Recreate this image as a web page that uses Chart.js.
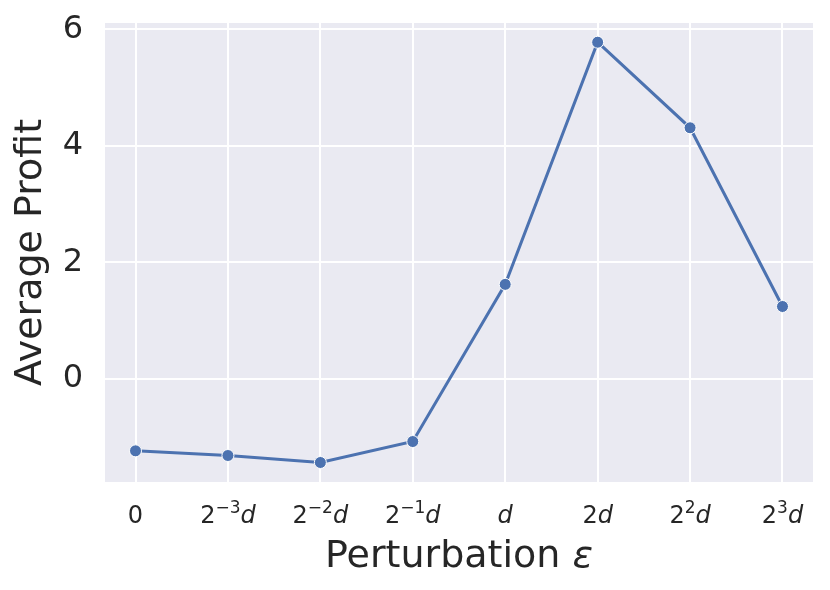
<!DOCTYPE html>
<html>
<head>
<meta charset="utf-8">
<script src="https://cdn.jsdelivr.net/npm/chart.js@4/dist/chart.umd.min.js"></script>
<style>
  html, body { margin: 0; padding: 0; background: #fff; }
  #wrap { width: 830px; height: 590px; }
</style>
</head>
<body>
<div id="wrap"><canvas id="profitChart" width="830" height="590"></canvas></div>
<script>
// perturbation levels (x categories) and average profit values
const xLabels = ['0', '2^−3d', '2^−2d', '2^−1d', 'd', '2d', '2^2d', '2^3d'];
const profit = [-1.24, -1.32, -1.44, -1.08, 1.62, 5.78, 4.31, 1.24];
const yTicks = [0, 2, 4, 6];

const textColor = '#262626';
const lineColor = '#4c72b0';

// draws x tick labels with superscript exponent and italic d, plus the x title
const mathTicks = {
  id: 'mathTicks',
  afterDraw(chart) {
    const ctx = chart.ctx;
    const xs = chart.scales.x;
    const baseY = chart.chartArea.bottom + 41;
    const big = '24px "DejaVu Sans"';
    const bigIt = 'italic 24px "DejaVu Sans"';
    const small = '17px "DejaVu Sans"';
    ctx.save();
    ctx.fillStyle = textColor;
    ctx.textBaseline = 'alphabetic';
    ctx.textAlign = 'left';
    const drawParts = (parts, cx, y) => {
      let total = 0;
      parts.forEach(p => { ctx.font = p[1]; total += ctx.measureText(p[0]).width; });
      let x = cx - total / 2;
      parts.forEach(p => {
        ctx.font = p[1];
        ctx.fillText(p[0], x, y + p[2]);
        x += ctx.measureText(p[0]).width;
      });
    };
    xLabels.forEach((lab, i) => {
      const parts = [];
      let rest = lab;
      if (rest.includes('^')) {
        const [base, tail] = rest.split('^');
        parts.push([base, big, 0]);
        parts.push([tail.replace('d', ''), small, -10]);
        rest = 'd';
      } else if (rest.endsWith('d') && rest.length > 1) {
        parts.push([rest.slice(0, -1), big, 0]);
        rest = 'd';
      }
      if (rest === 'd') parts.push(['d', bigIt, 0]);
      else if (parts.length === 0) parts.push([rest, big, 0]);
      drawParts(parts, xs.getPixelForValue(i), baseY);
    });
    // x axis title
    const a = chart.chartArea;
    drawParts([
      ['Perturbation ', '38px "DejaVu Sans"', 0],
      ['ε', 'italic 38px "DejaVu Sans"', 0]
    ], (a.left + a.right) / 2, a.bottom + 85);
    ctx.restore();
  }
};

const chartAreaBg = {
  id: 'chartAreaBg',
  beforeDraw(chart) {
    const { ctx, chartArea: a } = chart;
    ctx.save();
    ctx.fillStyle = '#eaeaf2';
    ctx.fillRect(a.left, a.top, a.right - a.left, a.bottom - a.top);
    ctx.restore();
  }
};

new Chart(document.getElementById('profitChart'), {
  type: 'line',
  data: {
    datasets: [{
      data: profit.map((v, i) => ({ x: i, y: v })),
      borderColor: lineColor,
      backgroundColor: lineColor,
      borderWidth: 3,
      pointRadius: 6,
      pointBorderColor: '#ffffff',
      pointBorderWidth: 1,
      tension: 0
    }]
  },
  options: {
    responsive: false,
    animation: false,
    layout: { padding: { left: 0, right: 17, top: 23, bottom: 0 } },
    plugins: { legend: { display: false }, tooltip: { enabled: false } },
    scales: {
      x: {
        type: 'linear',
        min: -0.33,
        max: 7.33,
        afterBuildTicks: s => { s.ticks = xLabels.map((_, i) => ({ value: i })); },
        afterFit: s => { s.height = 108; s.paddingLeft = 0; s.paddingRight = 0; },
        border: { display: false },
        grid: { color: '#ffffff', lineWidth: 2, drawTicks: false },
        ticks: { display: false },
        title: { display: false }
      },
      y: {
        min: -1.775,
        max: 6.11,
        afterBuildTicks: s => { s.ticks = yTicks.map(v => ({ value: v })); },
        afterFit: s => { s.width = 105; s.paddingTop = 0; s.paddingBottom = 0; },
        border: { display: false },
        grid: { color: '#ffffff', lineWidth: 2, drawTicks: false },
        ticks: {
          color: textColor,
          padding: 22,
          font: { family: 'DejaVu Sans', size: 32 }
        },
        title: {
          display: true,
          text: 'Average Profit',
          color: textColor,
          font: { family: 'DejaVu Sans', size: 38 },
          padding: { top: 8, bottom: 0 }
        }
      }
    }
  },
  plugins: [chartAreaBg, mathTicks]
});
</script>
</body>
</html>
